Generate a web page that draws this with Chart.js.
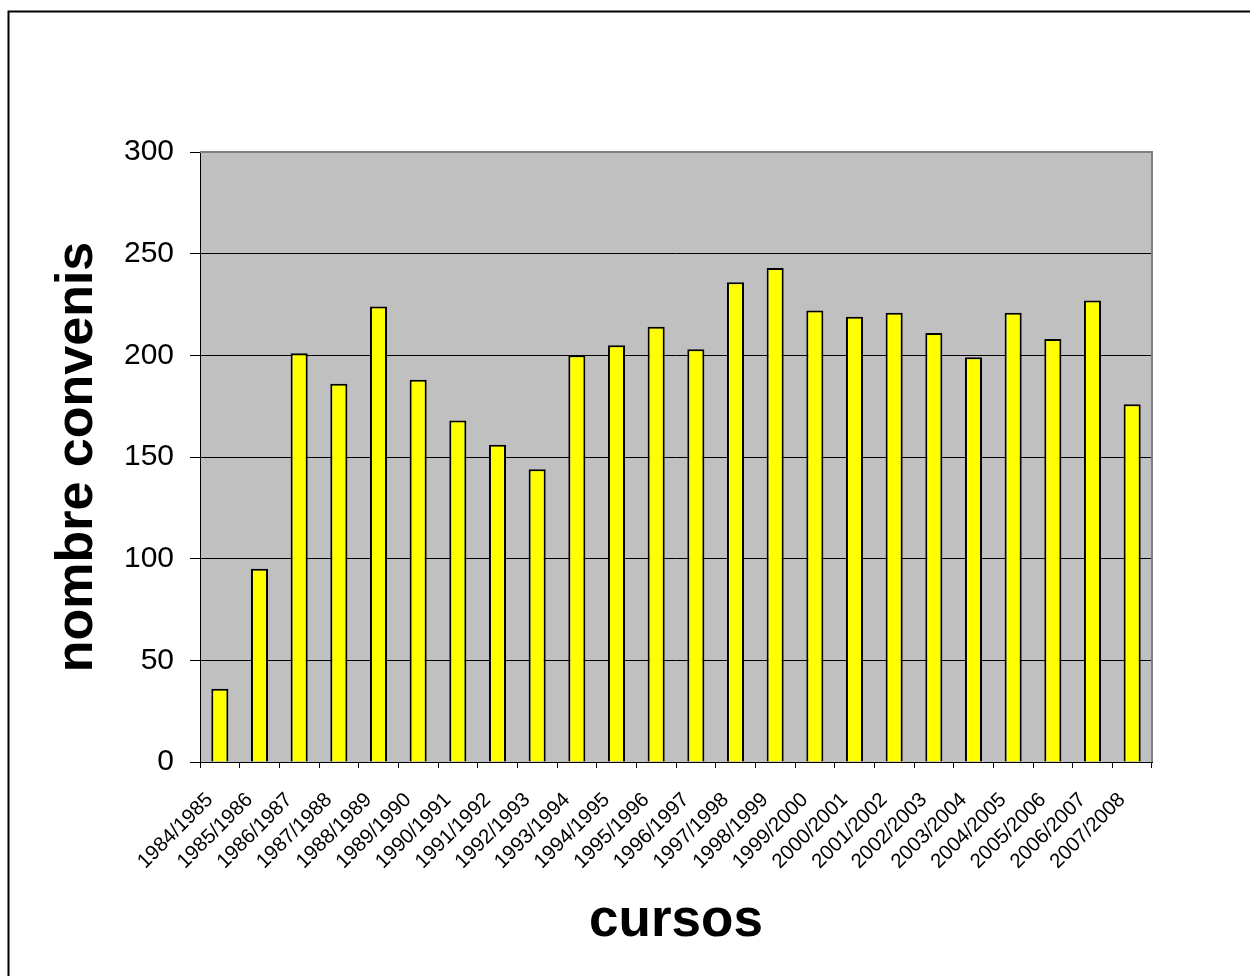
<!DOCTYPE html>
<html>
<head>
<meta charset="utf-8">
<title>nombre convenis</title>
<script src="https://cdn.jsdelivr.net/npm/chart.js@4"></script>
<style>
  html, body { margin: 0; padding: 0; background: #fff; }
  #wrap { width: 1250px; height: 976px; }
</style>
</head>
<body>
<div id="wrap"><canvas id="chart" width="1250" height="976"></canvas></div>
<script>
const cursos = [
  "1984/1985", "1985/1986", "1986/1987", "1987/1988", "1988/1989", "1989/1990",
  "1990/1991", "1991/1992", "1992/1993", "1993/1994", "1994/1995", "1995/1996",
  "1996/1997", "1997/1998", "1998/1999", "1999/2000", "2000/2001", "2001/2002",
  "2002/2003", "2003/2004", "2004/2005", "2005/2006", "2006/2007", "2007/2008"
];
const convenis = [
  36, 95, 201, 186, 224, 188,
  168, 156, 144, 200, 205, 214,
  203, 236, 243, 222, 219, 221,
  211, 199, 221, 208, 227, 176
];
const yTicks = [0, 50, 100, 150, 200, 250, 300];

Chart.defaults.font.family = "'Liberation Sans', Arial, sans-serif";
Chart.defaults.color = '#000';

// grey plot area, grey top/right edge and the outer frame
const frame = {
  id: 'frame',
  beforeDraw(chart) {
    const { ctx, chartArea: a } = chart;
    ctx.save();
    ctx.fillStyle = '#c0c0c0';
    ctx.fillRect(a.left, a.top, a.right - a.left, a.bottom - a.top);
    ctx.restore();
  },
  afterDraw(chart) {
    const { ctx, chartArea: a } = chart;
    ctx.save();
    ctx.strokeStyle = '#808080';
    ctx.lineWidth = 2;
    ctx.beginPath();
    ctx.moveTo(a.left, a.top);
    ctx.lineTo(a.right, a.top);
    ctx.lineTo(a.right, a.bottom);
    ctx.stroke();

    ctx.strokeStyle = '#000';
    ctx.lineWidth = 2;
    ctx.beginPath();
    ctx.moveTo(8.5, chart.height);
    ctx.lineTo(8.5, 11.5);
    ctx.lineTo(chart.width, 11.5);
    ctx.stroke();
    ctx.restore();
  }
};

new Chart(document.getElementById('chart'), {
  type: 'bar',
  data: {
    labels: cursos,
    datasets: [{
      label: 'nombre convenis',
      data: convenis,
      backgroundColor: '#ffff00',
      borderColor: '#000',
      borderWidth: 2,
      barPercentage: 0.43,
      categoryPercentage: 1
    }]
  },
  options: {
    responsive: false,
    animation: false,
    devicePixelRatio: 1,
    layout: { padding: { top: 152, right: 98, left: 0, bottom: 0 } },
    plugins: {
      legend: { display: false },
      tooltip: { enabled: false }
    },
    scales: {
      x: {
        afterFit(scale) { scale.height = 214; },
        grid: {
          offset: true,
          drawOnChartArea: false,
          drawTicks: true,
          tickLength: 6,
          color: '#000'
        },
        border: { color: '#000', width: 1 },
        ticks: {
          autoSkip: false,
          minRotation: 45,
          maxRotation: 45,
          padding: 20,
          labelOffset: -10,
          font: { size: 20.5 }
        },
        title: {
          display: true,
          text: 'cursos',
          font: { size: 53, weight: 'bold' },
          padding: { top: 0, bottom: 23 }
        }
      },
      y: {
        min: 0,
        max: 300,
        afterFit(scale) { scale.width = 200; },
        afterBuildTicks(scale) { scale.ticks = yTicks.map(v => ({ value: v })); },
        grid: {
          color: '#000',
          lineWidth: 1,
          tickLength: 10
        },
        border: { color: '#000', width: 1 },
        ticks: {
          padding: 16,
          font: { size: 30 }
        },
        title: {
          display: true,
          text: 'nombre convenis',
          font: { size: 52, weight: 'bold' },
          padding: { top: 46, bottom: 0 }
        }
      }
    }
  },
  plugins: [frame]
});
</script>
</body>
</html>
